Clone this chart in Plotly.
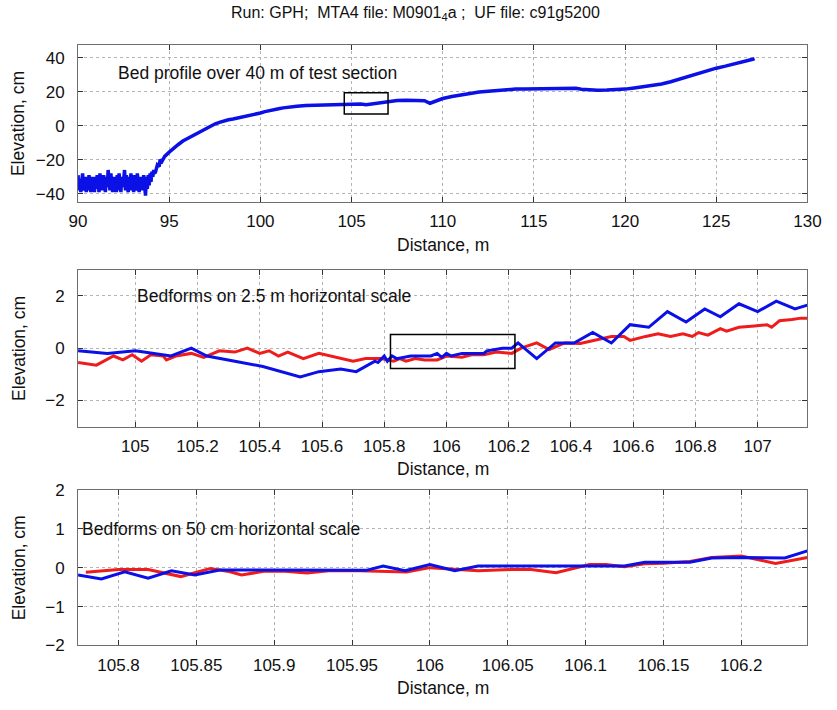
import plotly.graph_objects as go

# ---- Panel 1: bed profile over the 40 m test section ----
profile_x = [
    90.00, 90.05, 90.10, 90.15, 90.20, 90.25, 90.30, 90.35, 90.40, 90.45,
    90.50, 90.55, 90.60, 90.65, 90.70, 90.75, 90.80, 90.85, 90.90, 90.95,
    91.00, 91.05, 91.10, 91.15, 91.20, 91.25, 91.30, 91.35, 91.40, 91.45,
    91.50, 91.55, 91.60, 91.65, 91.70, 91.75, 91.80, 91.85, 91.90, 91.95,
    92.00, 92.05, 92.10, 92.15, 92.20, 92.25, 92.30, 92.35, 92.40, 92.45,
    92.50, 92.55, 92.60, 92.65, 92.70, 92.75, 92.80, 92.85, 92.90, 92.95,
    93.00, 93.05, 93.10, 93.15, 93.20, 93.25, 93.30, 93.35, 93.40, 93.45,
    93.50, 93.55, 93.60, 93.65, 93.70, 93.75, 93.80, 93.85, 93.90, 93.95,
    94.00, 94.05, 94.10, 94.15, 94.20,
    94.25, 94.35, 94.45, 94.50, 94.60, 94.75, 95.00, 95.25, 95.50, 95.75,
    96.00, 96.25, 96.50, 96.75, 97.00, 97.25, 97.50, 97.75, 98.00, 98.25,
    98.50, 98.75, 99.00, 99.25, 99.50, 99.75, 100.00, 100.25, 100.50, 100.75,
    101.00, 101.25, 101.50, 101.75, 102.00, 102.50, 103.00, 103.50, 104.00, 104.50,
    105.00, 105.50, 105.80, 106.20, 106.60, 107.00, 107.50, 108.00, 108.50, 109.00,
    109.30, 109.60, 110.00, 110.50, 111.00, 111.50, 112.00, 112.50, 113.00, 113.50,
    114.00, 114.50, 115.00, 115.50, 116.00, 116.50, 117.00, 117.30, 117.60, 118.00,
    118.50, 119.00, 119.50, 120.00, 120.50, 121.00, 121.50, 122.00, 122.50, 123.00,
    123.50, 124.00, 124.50, 125.00, 125.50, 126.00, 126.50, 127.00, 127.10,
]
profile_z = [
    -29, -38, -31, -39, -33, -28, -38, -35, -30, -39,
    -32, -38, -29, -34, -39, -30, -37, -31, -39, -30,
    -37, -29, -35, -39, -28, -36, -31, -38, -29, -35,
    -39, -30, -36, -26, -32, -38, -28, -35, -39, -30,
    -37, -31, -39, -29, -38, -28, -35, -39, -30, -36,
    -32, -26, -38, -29, -35, -39, -30, -37, -28, -38,
    -31, -39, -29, -35, -38, -28, -36, -39, -30, -37,
    -31, -38, -29, -36, -41, -30, -37, -29, -35, -28,
    -33, -27, -30, -26, -28,
    -27, -23, -24, -20, -21, -18, -15.5, -13, -11, -9,
    -7.5, -6, -4.5, -3, -1.5, 0, 1, 2, 3, 3.5,
    4, 4.5, 5, 5.5, 6, 6.8, 7.5, 8.3, 9, 9.6,
    10, 10.5, 10.9, 11.2, 11.5, 11.9, 12.1, 12.3, 12.5, 12.8,
    13, 12.8, 12.3, 12.8, 13.8, 14.3, 14.8, 15, 14.9, 14.7,
    13.2, 14.5, 16, 17.2, 18.2, 19, 19.8, 20.3, 20.8, 21.2,
    21.5, 21.6, 21.7, 21.9, 22.1, 22.3, 22.3, 22, 21.4, 21.0,
    20.9, 21.0, 21.2, 21.5, 22.2, 22.8, 23.5, 24.5, 25.8, 27.5,
    29, 30.5, 32.3, 33.8, 35, 36.2, 37.3, 39, 39.4,
]

# ---- Panel 2: bedforms on a 2.5 m scale ----
mid_blue_x = [
    104.816, 104.91, 105.00, 105.115, 105.18, 105.23, 105.32, 105.41, 105.53, 105.59,
    105.66, 105.71, 105.77, 105.78, 105.80, 105.81, 105.825, 105.84, 105.885, 105.95,
    105.97, 105.985, 106.00, 106.015, 106.05, 106.12, 106.13, 106.18, 106.21, 106.23,
    106.29, 106.35, 106.41, 106.47, 106.53, 106.59, 106.65, 106.71, 106.77, 106.83,
    106.88, 106.94, 107.00, 107.06, 107.12, 107.16,
]
mid_blue_z = [
    -0.1, -0.2, -0.1, -0.3, 0.0, -0.3, -0.5, -0.7, -1.1, -0.9,
    -0.8, -0.9, -0.5, -0.55, -0.3, -0.5, -0.3, -0.4, -0.3, -0.3,
    -0.2, -0.35, -0.2, -0.3, -0.2, -0.2, -0.1, 0.0, 0.0, 0.2,
    -0.4, 0.2, 0.2, 0.6, 0.2, 0.9, 0.8, 1.4, 1.0, 1.5,
    1.2, 1.7, 1.4, 1.8, 1.5, 1.65,
]
mid_red_x = [
    104.816, 104.875, 104.93, 104.96, 104.99, 105.02, 105.05, 105.09, 105.10, 105.13,
    105.18, 105.22, 105.27, 105.32, 105.36, 105.40, 105.43, 105.46, 105.49, 105.54,
    105.59, 105.65, 105.70, 105.74, 105.79, 105.83, 105.85, 105.87, 105.90, 105.93,
    105.97, 106.00, 106.05, 106.08, 106.12, 106.16, 106.21, 106.24, 106.29, 106.33,
    106.38, 106.43, 106.49, 106.53, 106.57, 106.59, 106.64, 106.68, 106.72, 106.76,
    106.79, 106.81, 106.84, 106.88, 106.90, 106.94, 106.99, 107.03, 107.045, 107.07,
    107.11, 107.14, 107.16,
]
mid_red_z = [
    -0.55, -0.65, -0.3, -0.45, -0.25, -0.5, -0.25, -0.3, -0.45, -0.3,
    -0.2, -0.35, -0.1, -0.15, 0.0, -0.2, -0.1, -0.3, -0.15, -0.4,
    -0.2, -0.35, -0.5, -0.4, -0.4, -0.5, -0.4, -0.5, -0.4, -0.45,
    -0.45, -0.3, -0.35, -0.25, -0.25, -0.15, -0.2, 0.0, 0.2, -0.05,
    0.2, 0.18, 0.35, 0.45, 0.45, 0.3, 0.45, 0.55, 0.45, 0.55,
    0.45, 0.6, 0.5, 0.75, 0.65, 0.8, 0.85, 0.9, 0.8, 1.05,
    1.1, 1.15, 1.15,
]

# ---- Panel 3: bedforms on a 50 cm scale ----
fine_blue_x = [
    105.774, 105.789, 105.804, 105.819, 105.834, 105.849, 105.865, 105.90, 105.93, 105.959,
    105.970, 105.984, 106.000, 106.016, 106.031, 106.07, 106.10, 106.125, 106.138, 106.167,
    106.181, 106.200, 106.228, 106.2425,
]
fine_blue_z = [
    -0.19, -0.29, -0.11, -0.27, -0.08, -0.19, -0.06, -0.06, -0.06, -0.07,
    0.04, -0.08, 0.08, -0.08, 0.04, 0.04, 0.04, 0.04, 0.14, 0.14,
    0.25, 0.26, 0.25, 0.43,
]
fine_red_x = [
    105.779, 105.789, 105.800, 105.819, 105.829, 105.840, 105.849, 105.859, 105.871, 105.879,
    105.894, 105.907, 105.921, 105.935, 105.955, 105.973, 105.985, 106.000, 106.016, 106.031,
    106.052, 106.065, 106.081, 106.1025, 106.113, 106.125, 106.138, 106.150, 106.167, 106.181,
    106.200, 106.222, 106.2425,
]
fine_red_z = [
    -0.12, -0.09, -0.05, -0.05, -0.13, -0.23, -0.13, -0.02, -0.1, -0.19,
    -0.09, -0.09, -0.14, -0.08, -0.08, -0.1, -0.11, 0.0, -0.05, -0.08,
    -0.05, -0.05, -0.13, 0.08, 0.08, 0.02, 0.1, 0.11, 0.16, 0.26,
    0.3, 0.11, 0.26,
]

x1_ticks = [90, 95, 100, 105, 110, 115, 120, 125, 130]
y1_ticks = [-40, -20, 0, 20, 40]
x2_ticks = [105, 105.2, 105.4, 105.6, 105.8, 106, 106.2, 106.4, 106.6, 106.8, 107]
y2_ticks = [-2, 0, 2]
x3_ticks = [105.8, 105.85, 105.9, 105.95, 106, 106.05, 106.1, 106.15, 106.2]
y3_ticks = [-2, -1, 0, 1, 2]

BLUE = "#0a10e6"
RED = "#ee1c1c"
FONT = "Liberation Sans, Arial, sans-serif"
NARROW = "Liberation Sans Narrow, Arial Narrow, Liberation Sans, sans-serif"

fig = go.Figure()
fig.add_trace(go.Scatter(x=profile_x, y=profile_z, mode="lines",
                         line=dict(color=BLUE, width=3.5), xaxis="x", yaxis="y"))
fig.add_trace(go.Scatter(x=mid_red_x, y=mid_red_z, mode="lines",
                         line=dict(color=RED, width=3), xaxis="x2", yaxis="y2"))
fig.add_trace(go.Scatter(x=mid_blue_x, y=mid_blue_z, mode="lines",
                         line=dict(color=BLUE, width=3), xaxis="x2", yaxis="y2"))
fig.add_trace(go.Scatter(x=fine_red_x, y=fine_red_z, mode="lines",
                         line=dict(color=RED, width=3), xaxis="x3", yaxis="y3"))
fig.add_trace(go.Scatter(x=fine_blue_x, y=fine_blue_z, mode="lines",
                         line=dict(color=BLUE, width=3), xaxis="x3", yaxis="y3"))

W, H = 837, 710
XDOM = [71 / W, 821 / W]


def ydom(top_px, bottom_px):
    return [1 - bottom_px / H, 1 - top_px / H]


axis_common = dict(
    showline=True, linecolor="#6e6e6e", linewidth=1, mirror="ticks",
    ticks="inside", ticklen=5, tickcolor="#333333",
    showgrid=True, gridcolor="#b4b4b4", griddash="dot", gridwidth=1,
    zeroline=False, tickfont=dict(family=FONT, size=17, color="#111111"),
)

panels = [
    # (x range, y range, x ticks, y ticks, top px, bottom px)
    ([90, 130], [-44.6, 47.4], x1_ticks, y1_ticks, 37, 198),
    ([104.816, 107.16], [-3, 3], x2_ticks, y2_ticks, 268, 429),
    ([105.774, 106.2425], [-2, 2], x3_ticks, y3_ticks, 494, 654),
]

layout = dict(
    width=W, height=H, margin=dict(l=0, r=0, t=0, b=0),
    paper_bgcolor="white", plot_bgcolor="white", showlegend=False,
    font=dict(family=FONT, size=14, color="#111111"),
)
annotations = []
for i, (xr, yr, xt, yt, top, bot) in enumerate(panels):
    sfx = "" if i == 0 else str(i + 1)
    layout["xaxis" + sfx] = dict(axis_common, domain=XDOM, range=xr, tickvals=xt,
                                 ticktext=[f"{v:g}" for v in xt],
                                 anchor="y" + sfx, ticklabelstandoff=4)
    layout["yaxis" + sfx] = dict(axis_common, domain=ydom(top, bot), range=yr,
                                 tickvals=yt, anchor="x" + sfx, ticklabelstandoff=9)
    annotations.append(dict(text="Distance, m", xref="paper", yref="paper",
                            x=446 / W, y=1 - (bot + 44) / H, showarrow=False,
                            xanchor="center", yanchor="middle",
                            font=dict(family=FONT, size=17.5)))
    annotations.append(dict(text="Elevation, cm", xref="paper", yref="paper",
                            x=10 / W, y=1 - (top + bot) / 2 / H, showarrow=False,
                            textangle=-90, xanchor="center", yanchor="middle",
                            font=dict(family=FONT, size=17.5)))

annotations += [
    dict(text="Run: GPH;  MTA4 file: M0901<sub>4</sub>a ;  UF file: c91g5200",
         xref="paper", yref="paper", x=418 / W, y=1 - 5 / H, showarrow=False,
         xanchor="center", yanchor="middle", font=dict(family=NARROW, size=16)),
    dict(text="Bed profile over 40 m of test section", xref="x", yref="y",
         x=92.08, y=30.9, showarrow=False, xanchor="left", yanchor="middle",
         font=dict(family=FONT, size=17.5)),
    dict(text="Bedforms on 2.5 m horizontal scale", xref="x2", yref="y2",
         x=105.0, y=2.0, showarrow=False, xanchor="left", yanchor="middle",
         font=dict(family=FONT, size=17.5)),
    dict(text="Bedforms on 50 cm horizontal scale", xref="x3", yref="y3",
         x=105.775, y=1.0, showarrow=False, xanchor="left", yanchor="middle",
         font=dict(family=FONT, size=17.5)),
]
layout["annotations"] = annotations

# Zoom windows marking the region shown in the next panel down
layout["shapes"] = [
    dict(type="rect", xref="x", yref="y", x0=104.6, x1=107.0, y0=6.9, y1=19.4,
         line=dict(color="black", width=1.5)),
    dict(type="rect", xref="x2", yref="y2", x0=105.82, x1=106.22, y0=-0.78, y1=0.52,
         line=dict(color="black", width=1.5)),
]

fig.update_layout(**layout)
fig.write_html("out.html")
